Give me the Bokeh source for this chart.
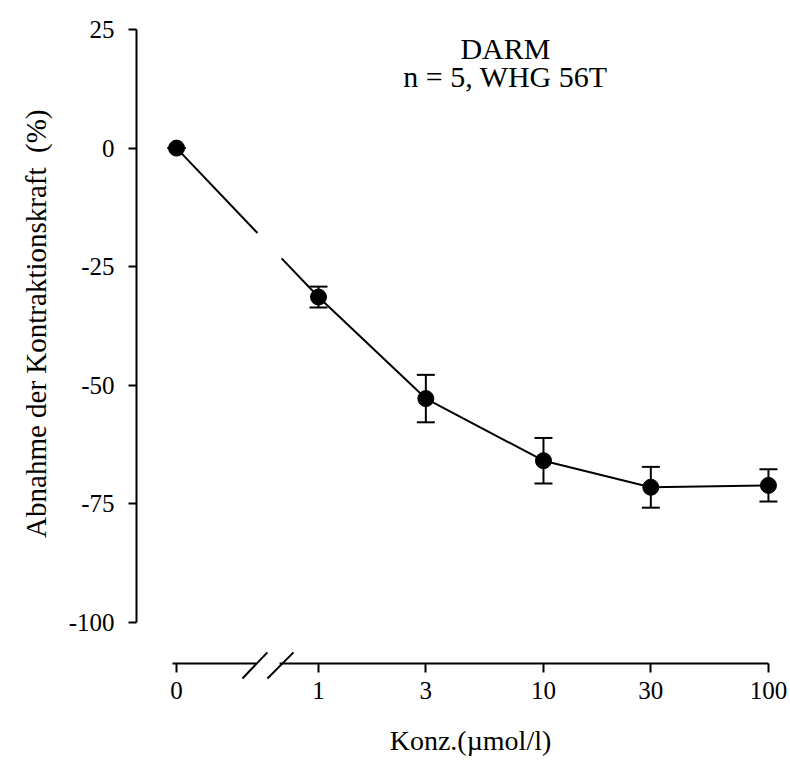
import math
from bokeh.plotting import figure
from bokeh.models import (ColumnDataSource, Range1d, FixedTicker, Whisker, TeeHead,
                          Label, Title)
from bokeh.embed import file_html
from bokeh.resources import INLINE

# ---- data ----
conc_labels = ["0", "1", "3", "10", "30", "100"]
conc = [0, 1, 3, 10, 30, 100]
mean = [0.0, -31.4, -52.8, -65.9, -71.5, -71.1]
err = [0.0, 2.2, 5.0, 4.8, 4.3, 3.4]
y_ticks = [-100, -75, -50, -25, 0, 25]

title1 = "DARM"
title2 = "n = 5, WHG 56T"
xlabel = "Konz.(\u00b5mol/l)"
ylabel = "Abnahme der Kontraktionskraft\u00a0 (%)"

# ---- layout constants ----
ZERO_POS = -0.631            # position (in decades) used for the "0" concentration
BREAK_FRAC = (0.57, 0.74)    # gap in the connecting line (fraction of first segment)
X_AXIS_AT = -108.64          # y value where the (detached) x axis is drawn
FONT = "Liberation Serif"

def xpos(c):
    return ZERO_POS if c == 0 else math.log10(c)

xs = [xpos(c) for c in conc]
src = ColumnDataSource(dict(x=xs, y=mean,
                            upper=[m + e for m, e in zip(mean, err)],
                            lower=[m - e for m, e in zip(mean, err)]))

p = figure(width=790, height=767, output_backend="svg", toolbar_location=None,
           x_range=Range1d(-0.809, 2.098), y_range=Range1d(-130.57, 26.9),
           min_border_left=136, min_border_right=0, min_border_top=20,
           min_border_bottom=0)
p.outline_line_color = None
p.grid.visible = False
p.background_fill_color = "white"
p.border_fill_color = "white"

# connecting line with a gap between 0 and 1
def interp(f):
    return xs[0] + f * (xs[1] - xs[0]), mean[0] + f * (mean[1] - mean[0])

a = interp(BREAK_FRAC[0])
b = interp(BREAK_FRAC[1])
p.line([xs[0], a[0]], [mean[0], a[1]], line_color="black", line_width=2)
p.line([b[0]] + xs[1:], [b[1]] + mean[1:], line_color="black", line_width=2)

# error bars
w = Whisker(base="x", upper="upper", lower="lower", source=src,
            line_color="black", line_width=2,
            upper_head=TeeHead(size=18, line_color="black", line_width=2),
            lower_head=TeeHead(size=18, line_color="black", line_width=2))
p.add_layout(w)

p.scatter("x", "y", source=src, size=16, color="black")

# y axis
ya = p.yaxis[0]
ya.ticker = FixedTicker(ticks=y_ticks)
ya.major_label_overrides = {t: str(t) for t in y_ticks}
ya.bounds = (-100, 25)
ya.minor_tick_line_color = None
ya.major_tick_in = 0
ya.major_tick_out = 8
ya.axis_line_width = 2
ya.major_tick_line_width = 2
ya.major_label_standoff = 14
ya.major_label_text_font = FONT
ya.major_label_text_font_size = "25px"
ya.major_label_text_color = "black"

# y axis title (placed as a side title so it can be shifted along the axis)
p.add_layout(Title(text=ylabel, align="right", offset=89, standoff=28,
                   text_font=FONT, text_font_size="29px", text_font_style="normal",
                   text_color="black"), "left")

# x axis (detached, below the y axis)
xa = p.xaxis[0]
xa.fixed_location = X_AXIS_AT
xt = [xpos(c) for c in conc]
xa.ticker = FixedTicker(ticks=xt)
xa.major_label_overrides = {t: l for t, l in zip(xt, conc_labels)}
xa.bounds = (ZERO_POS - 0.02, math.log10(conc[-1]))
xa.minor_tick_line_color = None
xa.major_tick_in = 0
xa.major_tick_out = 9
xa.axis_line_width = 2
xa.major_tick_line_width = 2
xa.major_label_standoff = 10
xa.major_label_text_font = FONT
xa.major_label_text_font_size = "25px"
xa.major_label_text_color = "black"
xa.axis_label = xlabel
xa.axis_label_text_font = FONT
xa.axis_label_text_font_style = "normal"
xa.axis_label_text_font_size = "28px"
xa.axis_label_text_color = "black"
xa.axis_label_standoff = 22

# axis break marks
p.segment(x0=[-0.276], y0=[X_AXIS_AT], x1=[-0.173], y1=[X_AXIS_AT],
          line_color="white", line_width=6, level="overlay")
p.segment(x0=[-0.338, -0.227], y0=[-111.8, -111.8], x1=[-0.227, -0.111], y1=[-106.3, -106.3],
          line_color="black", line_width=2, level="overlay")

# titles
p.add_layout(Label(x=0.831, y=21.0, text=title1, text_align="center",
                   text_baseline="middle", text_font=FONT, text_font_size="30px",
                   text_color="black"))
p.add_layout(Label(x=0.831, y=15.1, text=title2, text_align="center",
                   text_baseline="middle", text_font=FONT, text_font_size="30px",
                   text_color="black"))

open("out.html", "w").write(file_html(p, INLINE))
